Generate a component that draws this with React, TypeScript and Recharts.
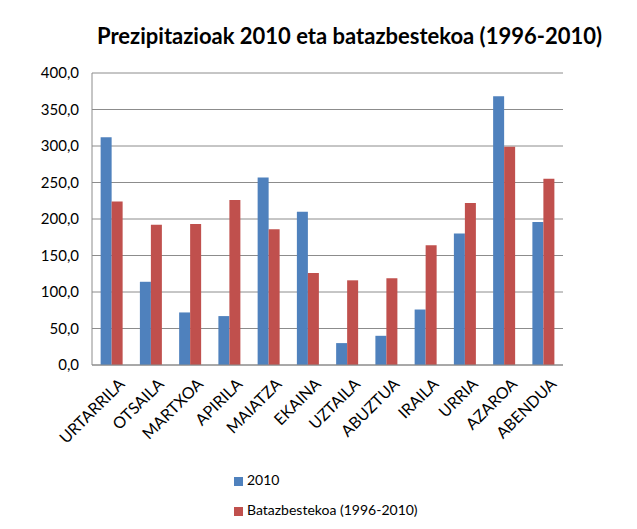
import React from "react";
import { BarChart, Bar, XAxis, YAxis, CartesianGrid, Legend } from "recharts";

const months = ["URTARRILA", "OTSAILA", "MARTXOA", "APIRILA", "MAIATZA", "EKAINA", "UZTAILA", "ABUZTUA", "IRAILA", "URRIA", "AZAROA", "ABENDUA"];
const values2010 = [312, 114, 72, 67, 257, 210, 30, 40, 76, 180, 368, 196];
const valuesAvg = [224, 192, 193, 226, 186, 126, 116, 119, 164, 222, 299, 255];
const yTicks = [0, 50, 100, 150, 200, 250, 300, 350, 400];

const data = months.map((m, i) => ({ month: m, y2010: values2010[i], avg: valuesAvg[i] }));

const FONT = "Lato, 'Open Sans', sans-serif";

const XTick = (props: any) => {
  const { x, y, payload } = props;
  return (
    <text x={x + 5} y={y + 3} transform={`rotate(-45, ${x + 5}, ${y + 3})`} textAnchor="end" dominantBaseline="hanging" fontSize={16} fill="#000" fontFamily={FONT}>
      {payload.value}
    </text>
  );
};

export default function App() {
  return (
    <div style={{ position: "absolute", left: 0, top: 0, width: 637, height: 529, background: "#fff" }}>
      <div style={{ position: "absolute", left: 0, width: 637, top: 22, textAlign: "center", fontFamily: FONT, fontWeight: "bold", fontSize: 22, color: "#000", paddingLeft: 62, boxSizing: "border-box" }}>
        Prezipitazioak 2010 eta batazbestekoa (1996-2010)
      </div>
      <BarChart width={637} height={529} data={data} margin={{ top: 73, right: 74, left: 30, bottom: 74 }} barCategoryGap="22%" barGap={0}>
        <CartesianGrid vertical={false} stroke="#8c8c8c" />
        <XAxis dataKey="month" stroke="#8c8c8c" tickLine={false} interval={0} height={90} tick={<XTick />} />
        <YAxis domain={[0, 400]} ticks={yTicks} width={62} stroke="#8c8c8c" tickLine={false} tickMargin={7} tick={{ fill: "#000", fontSize: 15, fontFamily: FONT }} tickFormatter={(v: number) => v.toFixed(1).replace(".", ",")} />
        <Legend layout="vertical" verticalAlign="middle" align="center" iconType="square" iconSize={9} wrapperStyle={{ left: 234, top: 465, width: 300, fontFamily: FONT, fontSize: 14, lineHeight: "30px" }} formatter={(v: string) => <span style={{ color: "#000" }}>{v}</span>} />
        <Bar dataKey="y2010" name="2010" fill="#4F81BD" isAnimationActive={false} />
        <Bar dataKey="avg" name="Batazbestekoa (1996-2010)" fill="#C0504D" isAnimationActive={false} />
      </BarChart>
    </div>
  );
}
